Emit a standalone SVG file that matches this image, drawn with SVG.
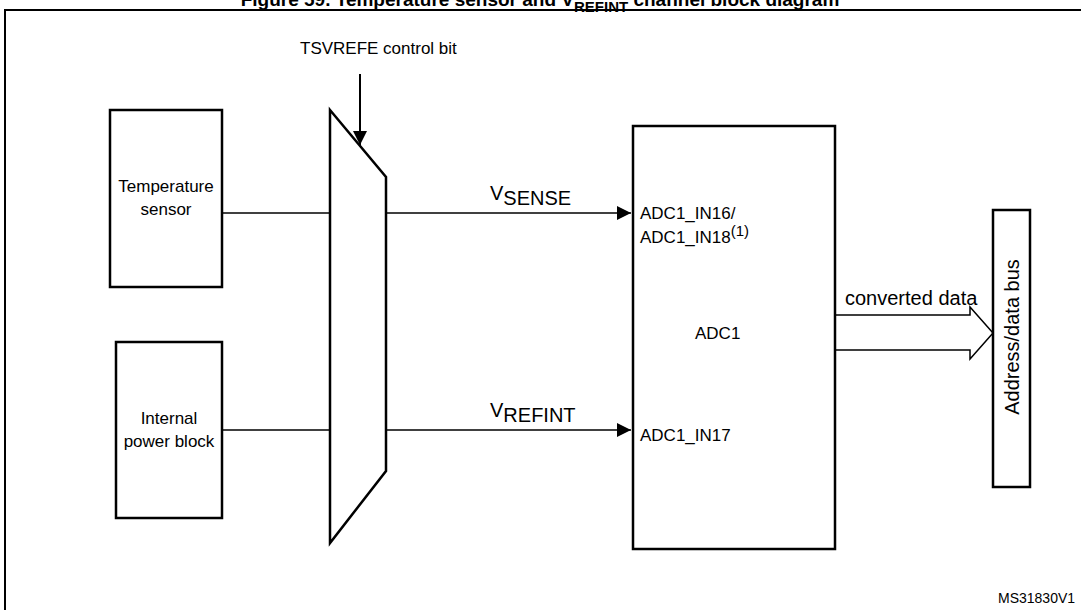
<svg xmlns="http://www.w3.org/2000/svg" width="1081" height="610" viewBox="0 0 1081 610">
<style>
.b{fill:#fff;stroke:#000;stroke-width:2.5}
.l{stroke:#000;stroke-width:1.5;fill:none}
.t{font-family:"Liberation Sans",Arial,sans-serif;font-size:17px;fill:#000}
.u{font-family:"Liberation Sans",Arial,sans-serif;font-size:20px;fill:#000}
</style>
<defs><marker id="a2" markerWidth="14" markerHeight="14" refX="14" refY="7" orient="auto" markerUnits="userSpaceOnUse" viewBox="0 0 14 14"><path d="M0,0L14,7L0,14z" fill="#000"/></marker></defs>
<text x="540" y="6" text-anchor="middle" style="font-family:'Liberation Sans',Arial,sans-serif;font-size:19px;font-weight:bold">Figure 59. Temperature sensor and V<tspan dy="6" font-size="15">REFINT</tspan><tspan dy="-6"> channel block diagram</tspan></text>
<rect x="5" y="10" width="1090" height="620" fill="none" stroke="#000" stroke-width="2"/>
<g id="connectors">
<line class="l" x1="222" y1="213" x2="330" y2="213"/>
<line class="l" x1="222" y1="430" x2="330" y2="430"/>
<line class="l" x1="386" y1="213" x2="631" y2="213" marker-end="url(#a2)"/>
<line class="l" x1="386" y1="430" x2="631" y2="430" marker-end="url(#a2)"/>
<line x1="360" y1="74" x2="360" y2="145" stroke="#000" stroke-width="2" marker-end="url(#a2)"/>
<path class="l" d="M835,315H970V307L993,333L970,359V350H835"/>
<text class="t" x="300" y="54">TSVREFE control bit</text>
<text class="u" x="490" y="200">V<tspan dy="5">SENSE</tspan></text>
<text class="u" x="490" y="417">V<tspan dy="5">REFINT</tspan></text>
<text class="u" x="845" y="305">converted data</text>
</g>
<g id="temp"><rect class="b" x="110" y="110" width="112" height="177"/><text class="t" x="166" y="192" text-anchor="middle">Temperature</text><text class="t" x="166" y="215" text-anchor="middle">sensor</text></g>
<g id="power"><rect class="b" x="116" y="342" width="106" height="176"/><text class="t" x="169" y="424" text-anchor="middle">Internal</text><text class="t" x="169" y="447" text-anchor="middle">power block</text></g>
<g id="mux"><path class="b" d="M330,110L386,177V471L330,543Z"/></g>
<g id="adc"><rect class="b" x="633" y="126" width="202" height="423"/>
<text class="t" x="640" y="219">ADC1_IN16/</text>
<text class="t" x="640" y="243">ADC1_IN18<tspan dy="-7" font-size="15">(1)</tspan></text>
<text class="t" x="695" y="339">ADC1</text>
<text class="t" x="640" y="441">ADC1_IN17</text></g>
<g id="bus"><rect class="b" x="993" y="210" width="37" height="277"/><text class="u" transform="translate(1019,337) rotate(-90)" text-anchor="middle">Address/data bus</text></g>
<text x="998" y="603" style="font-family:'Liberation Sans',Arial,sans-serif;font-size:14px">MS31830V1</text>
</svg>
